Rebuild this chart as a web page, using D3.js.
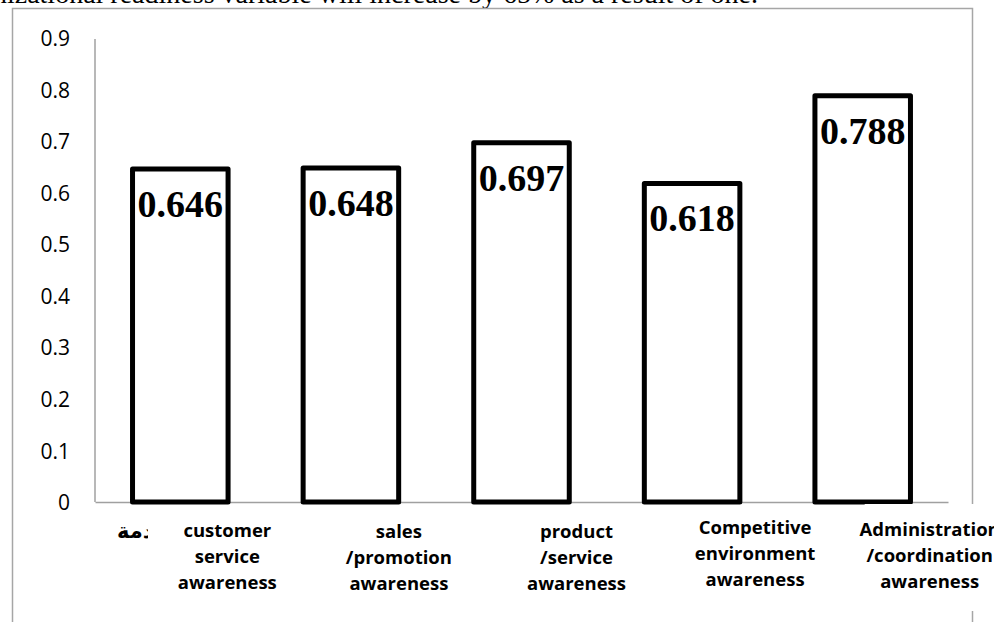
<!DOCTYPE html>
<html>
<head>
<meta charset="utf-8">
<script src="https://cdn.jsdelivr.net/npm/d3@7"></script>
<style>
  body { margin: 0; background: #fff; overflow: hidden; }
  svg { display: block; }
</style>
</head>
<body>
<script>
// chart values
var categories = [
    ["customer", "service", "awareness"],
    ["sales", "/promotion", "awareness"],
    ["product", "/service", "awareness"],
    ["Competitive", "environment", "awareness"],
    ["Administration", "/coordination", "awareness"]];
var values = [0.646, 0.648, 0.697, 0.618, 0.788];
var yTicks = [0, 0.1, 0.2, 0.3, 0.4, 0.5, 0.6, 0.7, 0.8, 0.9];
var caption = "The organizational readiness variable will increase by 65% as a result of one.";
var arabicLabel = "الخدمة";

// text boxes of the category labels sit a bit right of their bars
var labelShift = [47, 48, 55, 63, 67];
var labelLift = [0, 1, 1, -3, -1];

var width = 994, height = 622;
var plot = {left: 95, right: 948, top: 38, bottom: 502};

var svg = d3.select("body")
    .append("svg")
    .attr("width", width)
    .attr("height", height);

// caption line above the chart, mostly cut off by the page edge
svg.append("text")
    .attr("x", 758)
    .attr("y", 3)
    .attr("text-anchor", "end")
    .style("font-family", "'Liberation Serif', 'Times New Roman', serif")
    .style("font-size", "28px")
    .text(caption);

// chart frame
svg.append("path")
    .attr("d", "M12.5," + height + "V8.5H972.5V" + height)
    .attr("fill", "none")
    .attr("stroke", "#a6a6a6")
    .attr("stroke-width", 1.5);

var x = d3.scaleBand()
    .domain(d3.range(values.length))
    .range([plot.left, plot.right])
    .paddingInner(0.44)
    .paddingOuter(0.22);

var y = d3.scaleLinear()
    .domain([0, 0.9])
    .range([plot.bottom, plot.top]);

// y axis: line plus labels, no tick marks
var yAxis = d3.axisLeft(y)
    .tickValues(yTicks)
    .tickSize(0)
    .tickPadding(25)
    .tickFormat(function(d) { return d === 0 ? "0" : d3.format(".1f")(d); });

var gy = svg.append("g")
    .attr("transform", "translate(" + plot.left + ",0)")
    .call(yAxis);
gy.select(".domain")
    .attr("stroke", "#a0a0a0")
    .attr("stroke-width", 1.5)
    .attr("d", "M0," + (plot.top + 1) + "V" + plot.bottom);
gy.selectAll(".tick text")
    .style("font-family", "'Open Sans', sans-serif")
    .style("font-size", "21px")
    .attr("fill", "#000")
    .attr("dy", "0.36em");

// x axis baseline
var xAxis = d3.axisBottom(x).tickSize(0).tickFormat("");
var gx = svg.append("g")
    .attr("transform", "translate(0," + plot.bottom + ")")
    .call(xAxis);
gx.select(".domain")
    .attr("stroke", "#a0a0a0")
    .attr("stroke-width", 1.5);

// bars
svg.selectAll("rect.bar")
    .data(values)
    .enter()
    .append("rect")
    .attr("class", "bar")
    .attr("x", function(d, i) { return x(i); })
    .attr("y", function(d) { return y(d); })
    .attr("width", x.bandwidth())
    .attr("height", function(d) { return y(0) - y(d); })
    .attr("fill", "#fff")
    .attr("stroke", "#000")
    .attr("stroke-width", 5)
    .attr("stroke-linejoin", "round");

// value labels inside the bars
svg.selectAll("text.value")
    .data(values)
    .enter()
    .append("text")
    .attr("class", "value")
    .attr("x", function(d, i) { return x(i) + x.bandwidth() / 2; })
    .attr("y", function(d) { return y(d) + 48; })
    .attr("text-anchor", "middle")
    .style("font-family", "'Liberation Serif', 'Times New Roman', serif")
    .style("font-weight", "bold")
    .style("font-size", "38px")
    .text(function(d) { return d3.format(".3f")(d); });

// leftover arabic word, partly hidden behind the first label box
svg.append("clipPath")
    .attr("id", "arClip")
    .append("rect")
    .attr("x", 100).attr("y", 505)
    .attr("width", 48).attr("height", 50);
svg.append("text")
    .attr("x", 117)
    .attr("y", 538)
    .attr("clip-path", "url(#arClip)")
    .style("font-family", "'DejaVu Sans', sans-serif")
    .style("font-weight", "bold")
    .style("font-size", "21px")
    .text(arabicLabel);

// white box behind the last label hides the frame edge
svg.append("rect")
    .attr("x", x(4) + x.bandwidth() / 2 + 2)
    .attr("y", 504)
    .attr("width", 140)
    .attr("height", 107)
    .attr("fill", "#fff");

var labels = svg.selectAll("text.cat")
    .data(categories)
    .enter()
    .append("text")
    .attr("class", "cat")
    .attr("text-anchor", "middle")
    .attr("transform", function(d, i) {
        return "translate(" + (x(i) + x.bandwidth() / 2 + labelShift[i]) +
            "," + (537 + labelLift[i]) + ")";
    })
    .style("font-family", "'Open Sans', sans-serif")
    .style("font-weight", "bold")
    .style("font-size", "18.5px");

labels.selectAll("tspan")
    .data(function(d) { return d; })
    .enter()
    .append("tspan")
    .attr("x", 0)
    .attr("y", function(d, j) { return j * 26; })
    .text(function(d) { return d; });
</script>
</body>
</html>
